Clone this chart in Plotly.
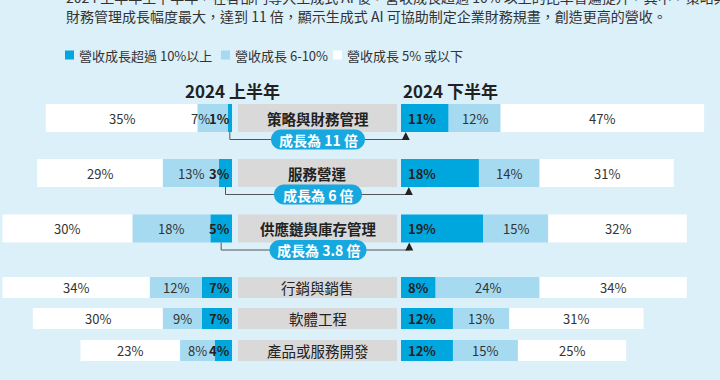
import plotly.graph_objects as go

# ---------------- data ----------------
categories = ["策略與財務管理", "服務營運", "供應鏈與庫存管理", "行銷與銷售", "軟體工程", "產品或服務開發"]
h1_high = [1, 3, 5, 7, 7, 4]        # 2024 上半年 營收成長超過 10%以上
h1_mid = [7, 13, 18, 12, 9, 8]      # 2024 上半年 營收成長 6-10%
h1_low = [35, 29, 30, 34, 30, 23]   # 2024 上半年 營收成長 5% 或以下
h2_high = [11, 18, 19, 8, 12, 12]   # 2024 下半年
h2_mid = [12, 14, 15, 24, 13, 15]
h2_low = [47, 31, 32, 34, 31, 25]
growth_labels = ["成長為 11 倍", "成長為 6 倍", "成長為 3.8 倍"]
legend_labels = ["營收成長超過 10%以上", "營收成長 6-10%", "營收成長 5% 或以下"]
period_titles = ["2024 上半年", "2024 下半年"]
intro_lines = [
    "2024 上半年至下半年，在各部門導入生成式 AI 後，營收成長超過 10% 以上的比率普遍提升，其中，策略與",
    "財務管理成長幅度最大，達到 11 倍，顯示生成式 AI 可協助制定企業財務規畫，創造更高的營收。",
]

# ---------------- layout / style ----------------
W, H = 720, 380
PX = 4.33
LEFT_END, RIGHT_START = 232, 401
row_y = [118, 173, 228.5, 287.5, 318.5, 350.5]
row_h = [28, 28, 28, 21, 21, 21]
BG = "#dcf0f9"
C_HIGH, C_MID, C_LOW = "#00a7df", "#a6daf1", "#ffffff"
GRAY = "#d9d9d9"
PILL = "#17a8e0"
FONT = "Noto Sans CJK TC"
TXT = "#333333"


def p(x):
    return x / W


fig = go.Figure()

def add_bars(high, mid, low, xa):
    base_mid = [a for a in high]
    base_low = [a + b for a, b in zip(high, mid)]
    for vals, base, col in [(high, [0] * len(high), C_HIGH), (mid, base_mid, C_MID), (low, base_low, C_LOW)]:
        fig.add_trace(go.Bar(orientation="h", y=row_y, x=vals, base=base, width=row_h,
                             marker=dict(color=col, line=dict(width=0)),
                             xaxis=xa, yaxis="y", hoverinfo="skip", showlegend=False))

add_bars(h1_high, h1_mid, h1_low, "x")
add_bars(h2_high, h2_mid, h2_low, "x2")

shapes = []
ann = []

# value labels
for i in range(len(categories)):
    y = row_y[i]
    # left (reversed axis)
    ann.append(dict(x=0, y=y, xref="x", yref="y", text=f"<b>{h1_high[i]}%</b>", showarrow=False,
                    xanchor="right", xshift=-1, borderpad=0, font=dict(size=13, color="#222")))
    ann.append(dict(x=h1_high[i] + h1_mid[i] / 2, y=y, xref="x", yref="y", text=f"{h1_mid[i]}%",
                    showarrow=False, borderpad=0, xshift=(-12 if h1_high[i] < 2 else 0),
                    font=dict(size=13, color=TXT)))
    ann.append(dict(x=h1_high[i] + h1_mid[i] + h1_low[i] / 2, y=y, xref="x", yref="y", text=f"{h1_low[i]}%",
                    showarrow=False, font=dict(size=13, color=TXT)))
    # right
    ann.append(dict(x=0, y=y, xref="x2", yref="y", text=f"<b>{h2_high[i]}%</b>", showarrow=False,
                    xanchor="left", xshift=5, font=dict(size=13, color="#222")))
    ann.append(dict(x=h2_high[i] + h2_mid[i] / 2, y=y, xref="x2", yref="y", text=f"{h2_mid[i]}%",
                    showarrow=False, font=dict(size=13, color=TXT)))
    ann.append(dict(x=h2_high[i] + h2_mid[i] + h2_low[i] / 2, y=y, xref="x2", yref="y", text=f"{h2_low[i]}%",
                    showarrow=False, font=dict(size=13, color=TXT)))
    # center gray label
    shapes.append(dict(type="rect", xref="paper", yref="y", x0=p(238), x1=p(397),
                       y0=y - row_h[i] / 2, y1=y + row_h[i] / 2, fillcolor=GRAY, line=dict(width=0)))
    lab = f"<b>{categories[i]}</b>" if i < 3 else categories[i]
    ann.append(dict(x=p(317.5), y=y, xref="paper", yref="y", text=lab, showarrow=False,
                    font=dict(size=14.5, color="#222")))

# connectors + pills
pill_w = [94, 88, 97]
LINE = dict(color="#555555", width=1)
for i, g in enumerate(growth_labels):
    bottom = row_y[i] + row_h[i] / 2
    hy = bottom + 7.5
    lx = h1_high[i] / 2
    ax = h2_high[i] * 0.1
    shapes.append(dict(type="line", xref="x", yref="y", x0=lx, x1=lx, y0=bottom, y1=hy, line=LINE))
    shapes.append(dict(type="line", xref="x", yref="y", x0=lx, x1=0, y0=hy, y1=hy, line=LINE))
    shapes.append(dict(type="line", xref="paper", yref="y", x0=p(LEFT_END), x1=p(RIGHT_START), y0=hy, y1=hy, line=LINE))
    shapes.append(dict(type="line", xref="x2", yref="y", x0=0, x1=ax, y0=hy, y1=hy, line=LINE))
    ann.append(dict(x=ax, y=bottom, xref="x2", yref="y", ax=ax, ay=hy, axref="x2", ayref="y", text="",
                    showarrow=True, arrowhead=2, arrowsize=1.6, arrowwidth=1, arrowcolor="#222", standoff=0))
    # pill
    cx, cy, w, h = 318, hy, pill_w[i], 20
    x0, x1, y0, y1 = cx - w / 2, cx + w / 2, cy - h / 2, cy + h / 2
    r = h / 2
    k = 0.5523 * r
    pts = [
        f"M{p(x0 + r)},{y0}", f"L{p(x1 - r)},{y0}",
        f"C{p(x1 - r + k)},{y0} {p(x1)},{cy - k} {p(x1)},{cy}",
        f"C{p(x1)},{cy + k} {p(x1 - r + k)},{y1} {p(x1 - r)},{y1}",
        f"L{p(x0 + r)},{y1}",
        f"C{p(x0 + r - k)},{y1} {p(x0)},{cy + k} {p(x0)},{cy}",
        f"C{p(x0)},{cy - k} {p(x0 + r - k)},{y0} {p(x0 + r)},{y0}", "Z",
    ]
    shapes.append(dict(type="path", xref="paper", yref="y", path=" ".join(pts), fillcolor=PILL, line=dict(width=0)))
    ann.append(dict(x=p(cx), y=cy, xref="paper", yref="y", text=f"<b>{g}</b>", showarrow=False,
                    font=dict(size=14, color="white")))

# period headings
ann.append(dict(x=p(182.5), y=90, xref="paper", yref="y", text=f"<b>{period_titles[0]}</b>", showarrow=False,
                font=dict(size=17, color="#222")))
ann.append(dict(x=p(450), y=90, xref="paper", yref="y", text=f"<b>{period_titles[1]}</b>", showarrow=False,
                font=dict(size=17, color="#222")))

# intro text (first line is cut by the top edge, as in the source)
for line, yy in zip(intro_lines, [-3, 16]):
    ann.append(dict(x=p(64), y=1 - yy / H, xref="paper", yref="paper", text=line, showarrow=False,
                    xanchor="left", yanchor="middle", font=dict(size=14, color=TXT)))

# legend
leg_sq = [65, 221, 333]
leg_cols = [C_HIGH, C_MID, C_LOW]
for sx, col, lab in zip(leg_sq, leg_cols, legend_labels):
    shapes.append(dict(type="rect", xref="paper", yref="y", x0=p(sx), x1=p(sx + 9), y0=50.5, y1=59.5,
                       fillcolor=col, line=dict(width=0)))
    ann.append(dict(x=p(sx + 12), y=55, xref="paper", yref="y", text=lab, showarrow=False, xanchor="left",
                    font=dict(size=13, color=TXT)))

fig.update_layout(
    width=W, height=H, margin=dict(l=0, r=0, t=0, b=0),
    paper_bgcolor=BG, plot_bgcolor=BG, barmode="overlay",
    font=dict(family=FONT, color=TXT),
    xaxis=dict(domain=[0, p(LEFT_END)], range=[LEFT_END / PX, 0], visible=False, fixedrange=True, anchor="y"),
    xaxis2=dict(domain=[p(RIGHT_START), 1], range=[0, (W - RIGHT_START) / PX], visible=False, fixedrange=True, anchor="y"),
    yaxis=dict(domain=[0, 1], range=[H, 0], visible=False, fixedrange=True),
    shapes=shapes, annotations=ann, showlegend=False,
)

fig.write_html("out.html", config={"displayModeBar": False},
               post_script="document.body.style.margin='0';document.body.style.background='" + BG + "';")
